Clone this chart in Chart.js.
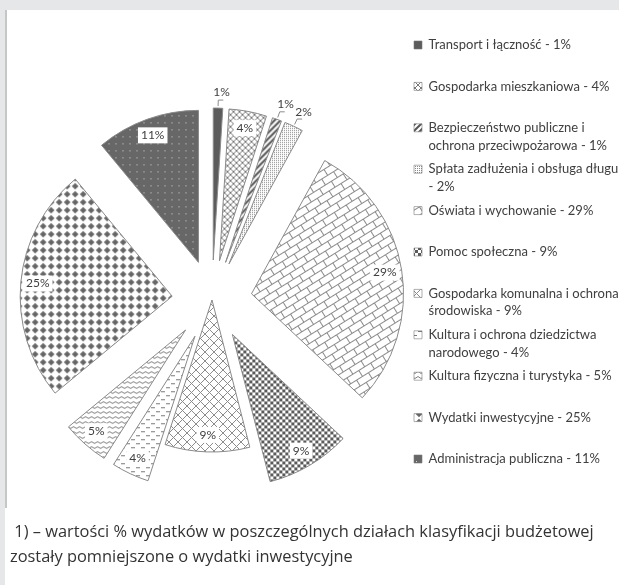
<!DOCTYPE html>
<html lang="pl">
<head>
<meta charset="utf-8">
<title>Struktura wydatków</title>
<script src="https://cdn.jsdelivr.net/npm/chart.js@4.4.1/dist/chart.umd.min.js"></script>
<style>
  html, body { margin: 0; padding: 0; }
  body { width: 619px; height: 585px; background: #e6e7e8; position: relative; overflow: hidden; }
  #panel { position: absolute; left: 5px; top: 10px; right: 0; bottom: 0; background: #fff; }
  #edge { position: absolute; left: 5px; top: 10px; width: 2px; height: 498px; background: #c6c6c6; }
  #wrap { position: absolute; left: 7px; top: 10px; width: 640px; height: 575px; }
  #note { position: absolute; left: 10px; top: 518px; margin: 0; white-space: pre;
          font: 16.4px "Open Sans", sans-serif; line-height: 25px; color: #333; }
</style>
</head>
<body>
<div id="panel"></div>
<div id="edge"></div>
<div id="wrap"><canvas id="pie" width="640" height="575"></canvas></div>
<p id="note"> 1) – wartości % wydatków w poszczególnych działach klasyfikacji budżetowej
zostały pomniejszone o wydatki inwestycyjne</p>
<script>
// --- data ---
const categories = [
  'Transport i łączność',
  'Gospodarka mieszkaniowa',
  'Bezpieczeństwo publiczne i\nochrona przeciwpożarowa',
  'Spłata zadłużenia i obsługa długu\n',
  'Oświata i wychowanie',
  'Pomoc społeczna',
  'Gospodarka komunalna i ochrona\nśrodowiska',
  'Kultura i ochrona dziedzictwa\nnarodowego',
  'Kultura fizyczna i turystyka',
  'Wydatki inwestycyjne',
  'Administracja publiczna'
];
const shares = [1, 4, 1, 2, 29, 9, 9, 4, 5, 25, 11];
// how far each slice is pulled out (Excel "explosion")
const explode = [40, 40, 40, 40, 40, 40, 0, 40, 40, 40, 40];

// --- layout targets (canvas px) ---
const PIE_X = 205, PIE_Y = 290, PIE_R = 152;
const LEGEND_X = 407, LEGEND_Y = 35, LEGEND_PAD = 6.3;

// --- fill patterns ---
function tile(w, h, paint) {
  const c = document.createElement('canvas');
  c.width = w; c.height = h;
  const g = c.getContext('2d');
  g.fillStyle = '#fff';
  g.fillRect(0, 0, w, h);
  paint(g, w, h);
  return g.createPattern(c, 'repeat');
}
function lines(g, color, width, segs) {
  g.strokeStyle = color; g.lineWidth = width;
  g.beginPath();
  segs.forEach(s => { g.moveTo(s[0], s[1]); g.lineTo(s[2], s[3]); });
  g.stroke();
}
const bricks = tile(14, 14, g => {
  g.fillStyle = '#8a8a8a';
  g.fillRect(0, 0, 14, 1); g.fillRect(0, 7, 14, 1);
  g.fillRect(0, 0, 1, 7); g.fillRect(7, 7, 1, 7);
});
bricks.setTransform(new DOMMatrix().rotate(-32));

const fills = [
  '#5c5c5c',
  tile(6, 6, g => lines(g, '#777', 1, [[0, 0, 6, 6], [6, 0, 0, 6]])),
  tile(6, 6, g => lines(g, '#555', 2, [[-1, 7, 7, -1], [-4, 4, 4, -4], [2, 10, 10, 2]])),
  tile(2, 2, g => { g.fillStyle = '#8a8a8a'; g.fillRect(0, 0, 1, 1); }),
  bricks,
  tile(6, 6, g => { g.fillStyle = '#5a5a5a'; g.fillRect(0, 0, 3, 3); g.fillRect(3, 3, 3, 3); }),
  tile(9, 9, g => lines(g, '#8c8c8c', 1, [[0, 0, 9, 9], [9, 0, 0, 9]])),
  tile(10, 8, g => { g.fillStyle = '#7a7a7a'; g.fillRect(1, 1, 4, 1); g.fillRect(6, 5, 4, 1); }),
  tile(6, 5, g => {
    g.strokeStyle = '#808080'; g.lineWidth = 1;
    g.beginPath(); g.moveTo(0, 3.5); g.lineTo(3, 1.5); g.lineTo(6, 3.5); g.stroke();
  }),
  tile(8, 8, g => {
    g.fillStyle = '#666';
    g.beginPath(); g.moveTo(4, 0.7); g.lineTo(7.3, 4); g.lineTo(4, 7.3); g.lineTo(0.7, 4); g.closePath(); g.fill();
  }),
  tile(7, 7, g => {
    g.fillStyle = '#676767'; g.fillRect(0, 0, 7, 7);
    g.fillStyle = '#d8d8d8'; g.fillRect(3, 3, 1, 1);
  })
];

// Chart.js enlarges and narrows small exploded slices (radius/angle "fix" based on
// circumference). Excel keeps them intact, so draw with a circumference whose sine is 1.
const arcDraw = Chart.ArcElement.prototype.draw;
Chart.ArcElement.prototype.draw = function (ctx) {
  const c = this.circumference;
  this.circumference = Math.PI / 2;
  arcDraw.call(this, ctx);
  this.circumference = c;
};

function legendText(i) {
  const parts = (categories[i] + ' - ' + shares[i] + '%').split('\n').map(s => s.trim());
  if (parts.length === 1) parts.push('');
  return parts;
}

// percent labels: inside-end with white box, small slices outside with a leader
const sliceLabels = {
  id: 'sliceLabels',
  afterDatasetsDraw(chart) {
    const ctx = chart.ctx;
    const meta = chart.getDatasetMeta(0);
    ctx.save();
    ctx.font = '12px Lato';
    ctx.textAlign = 'center';
    ctx.textBaseline = 'middle';
    meta.data.forEach((arc, i) => {
      const p = arc.getProps(['x', 'y', 'startAngle', 'endAngle', 'outerRadius'], true);
      const mid = (p.startAngle + p.endAngle) / 2;
      const shift = (arc.options.offset || 0) / 4;
      const cx = p.x + Math.cos(mid) * shift;
      const cy = p.y + Math.sin(mid) * shift;
      const at = r => [cx + Math.cos(mid) * r, cy + Math.sin(mid) * r];
      const txt = shares[i] + '%';
      if (shares[i] > 2) {
        const [lx, ly] = at(p.outerRadius - 17);
        const w = ctx.measureText(txt).width + 6;
        ctx.fillStyle = '#fff';
        ctx.fillRect(lx - w / 2, ly - 8, w, 16);
        ctx.fillStyle = '#404040';
        ctx.fillText(txt, lx, ly);
      } else {
        const [x1, y1] = at(p.outerRadius + 2);
        const [x2, y2] = at(p.outerRadius + 8);
        ctx.strokeStyle = '#8c8c8c';
        ctx.lineWidth = 1;
        ctx.beginPath();
        ctx.moveTo(x1, y1); ctx.lineTo(x2, y2); ctx.lineTo(x2 + 5, y2);
        ctx.stroke();
        const [lx, ly] = at(p.outerRadius + 16);
        ctx.fillStyle = '#404040';
        ctx.fillText(txt, lx + 3, ly);
      }
    });
    ctx.restore();
  }
};

const layoutPad = { left: 3 + LEGEND_PAD, top: LEGEND_Y - 6.5 - LEGEND_PAD, right: 20, bottom: 0 };
layoutPad.bottom = 575 - (2 * PIE_Y - layoutPad.top);

const chart = new Chart(document.getElementById('pie'), {
  type: 'pie',
  data: {
    labels: categories,
    datasets: [{
      data: shares,
      backgroundColor: fills,
      borderColor: '#8a8a8a',
      borderWidth: 1,
      offset: explode.map(v => v * 4),
      radius: PIE_R
    }]
  },
  options: {
    responsive: false,
    animation: false,
    layout: { padding: layoutPad },
    plugins: {
      tooltip: { enabled: false },
      legend: {
        position: 'right',
        align: 'start',
        labels: {
          boxWidth: 8,
          boxHeight: 8,
          padding: LEGEND_PAD,
          color: '#404040',
          font: { family: 'Lato', size: 13, lineHeight: 1.35 },
          generateLabels: () => categories.map((c, i) => ({
            text: legendText(i),
            fillStyle: fills[i],
            strokeStyle: '#7a7a7a',
            lineWidth: 0.6,
            fontColor: '#404040',
            hidden: false,
            index: i,
            datasetIndex: 0
          }))
        }
      }
    }
  },
  plugins: [sliceLabels]
});

// line the legend column up with the picture, then re-centre the pie
layoutPad.right += (chart.legend.left + LEGEND_PAD) - LEGEND_X;
layoutPad.left = 2 * PIE_X - (LEGEND_X - LEGEND_PAD);
chart.update();
</script>
</body>
</html>
